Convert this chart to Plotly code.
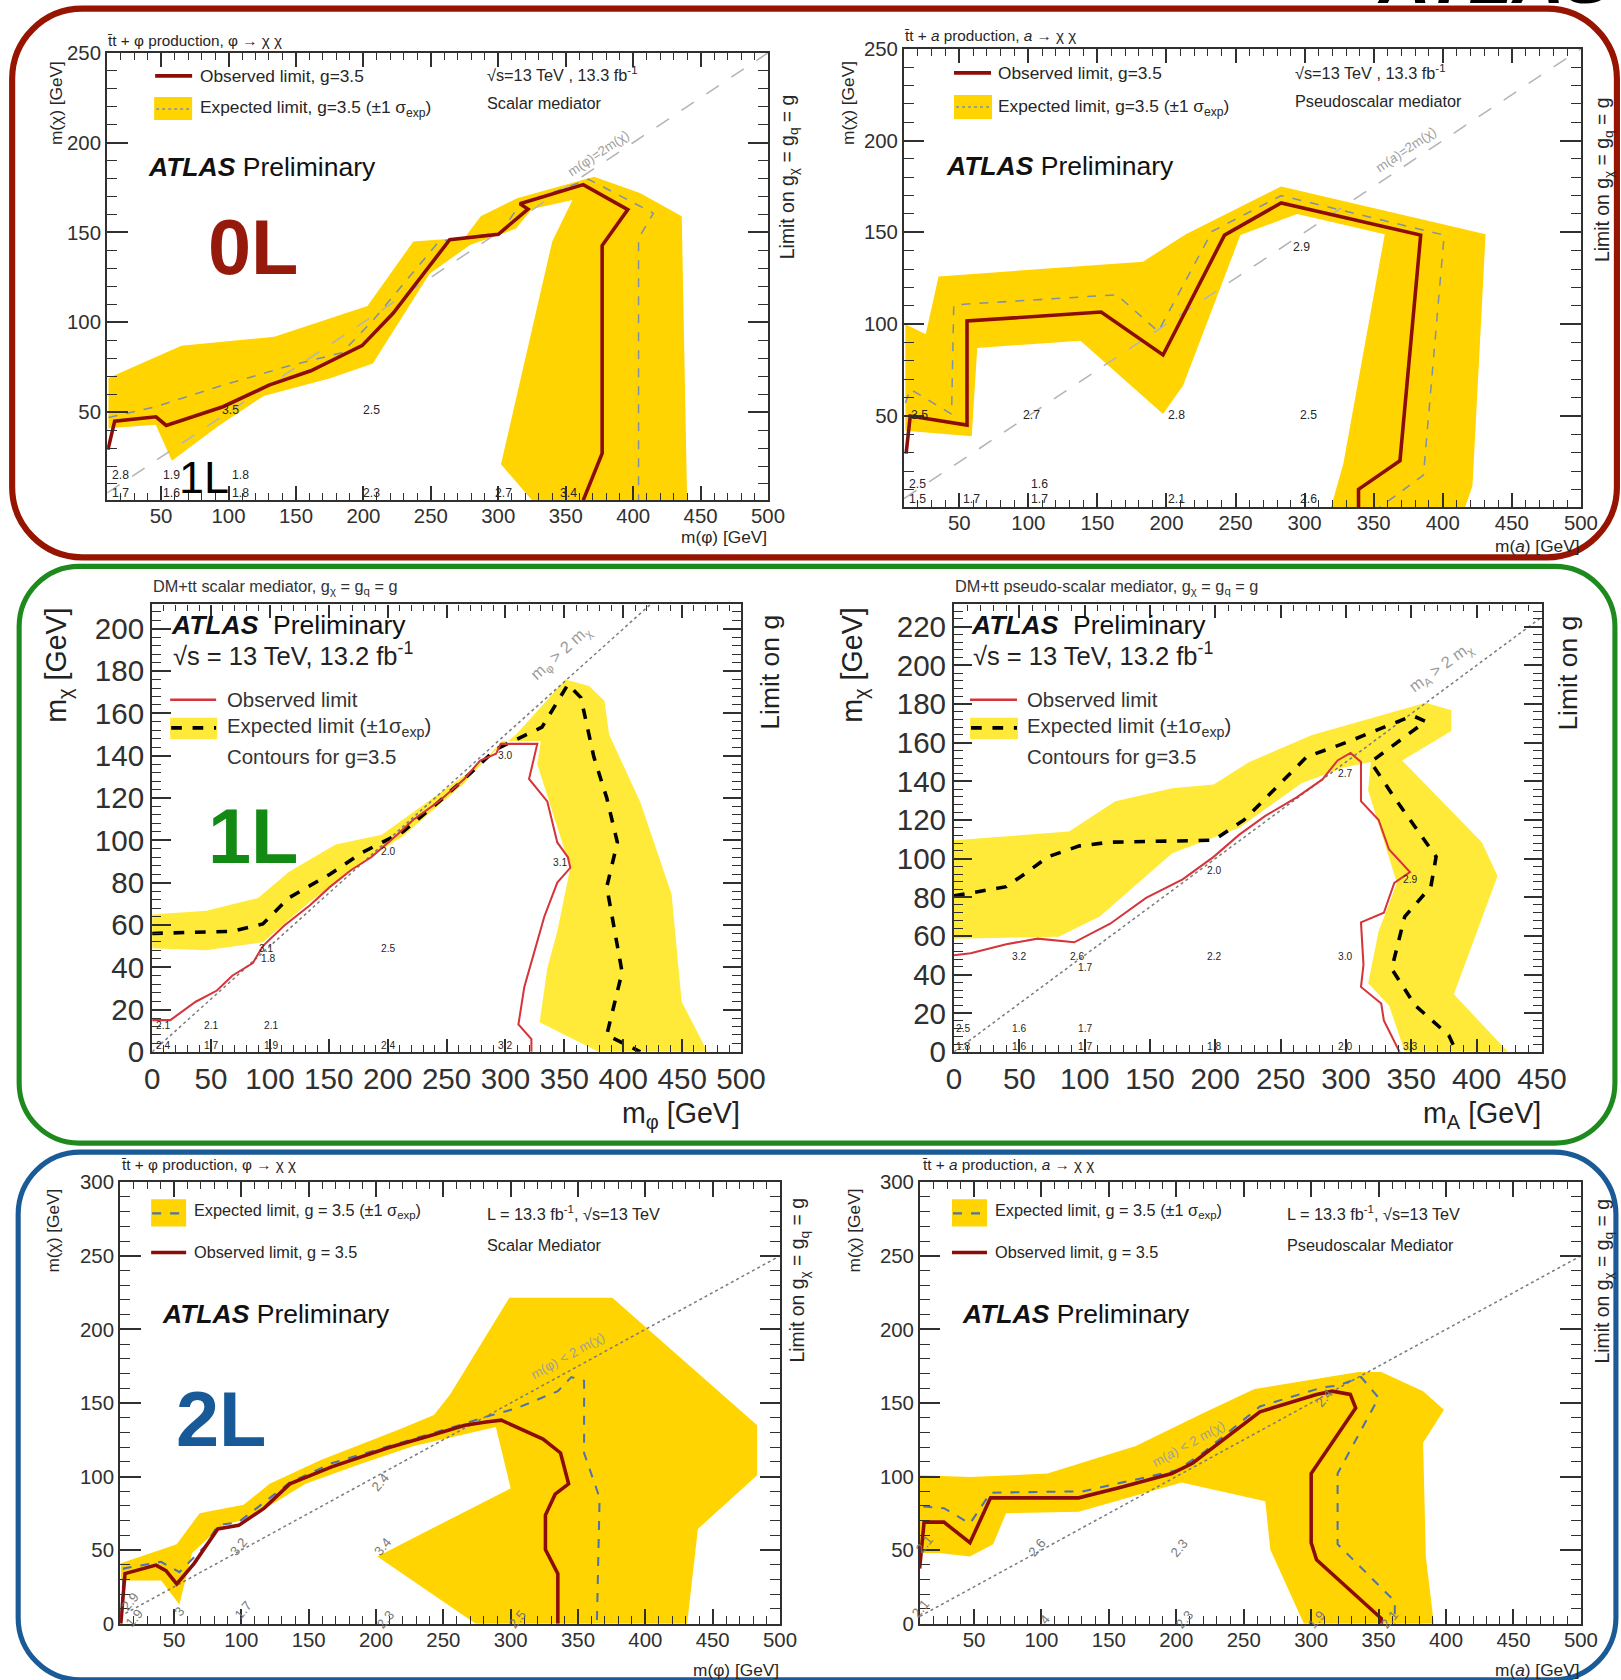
import plotly.graph_objects as go

# Layout positions below are written in window pixels of the final 1621x1680
# picture. The rendered page is photographed slightly reduced (and offset by the
# default 8px body margin), so window pixels are converted to page pixels first.
WIN_W, WIN_H = 1621, 1680
PAGE_MARGIN = 8
KX, KY, CY = 0.980, 0.981, 4.5
ZF = (1 / KX + 1 / KY) / 2
W = round(WIN_W / KX) - 2 * PAGE_MARGIN
H = round((WIN_H - CY) / KY) - 2 * PAGE_MARGIN
FONT = "Liberation Sans, Arial, Helvetica, sans-serif"

# ---------------------------------------------------------------------------
# 0 lepton, scalar mediator (tt + phi)
# ---------------------------------------------------------------------------
zl_s_obs_x = [10.6, 15.6, 46.2, 53.8, 95.9, 130, 161, 199, 222, 264, 300, 318, 322, 316, 363, 396, 377, 377, 363]
zl_s_obs_y = [29.1, 45, 47.4, 42.6, 53, 65, 73, 87, 105, 146, 149, 160, 163, 166, 176.6, 162.7, 142.7, 27, 1]
zl_s_exp_x = [11, 46, 96, 146, 184, 207, 256, 302, 316, 367, 415, 404, 404]
zl_s_exp_y = [47, 53, 65, 76, 83, 101, 145, 150, 165.6, 179.6, 160.7, 146.7, 1]
zl_s_band_outer_x = [11, 65, 134, 203, 237, 275, 287, 314, 371, 405, 436, 440, 325]
zl_s_band_outer_y = [69, 87, 92, 109, 145, 147, 159, 169, 181, 172, 159, 1, 1]
zl_s_band_inner_x = [302, 340, 355, 325, 313, 279, 249, 207, 176, 126, 92, 58, 46, 11]
zl_s_band_inner_y = [21, 145, 168, 163, 152, 143, 127, 77, 69, 59, 42, 23, 43, 41]
zl_s_limits = [(101.6, 51.4, "3.5"), (206, 51.4, "2.5"), (20, 15, "2.8"), (20, 5, "1.7"),
               (57.6, 15, "1.9"), (57.6, 5, "1.6"), (109, 15, "1.8"), (109, 5, "1.8"),
               (206, 5, "2.3"), (304, 5, "2.7"), (352, 5, "3.4")]

# ---------------------------------------------------------------------------
# 0 lepton, pseudoscalar mediator (tt + a)
# ---------------------------------------------------------------------------
zl_p_obs_x = [11.5, 14.5, 55.6, 55.6, 152.7, 197.5, 242, 283, 384, 369, 339, 339]
zl_p_obs_y = [29.5, 50, 45, 101.7, 106.6, 83.2, 148.5, 166, 148.5, 25.6, 10, 0]
zl_p_exp_x = [11, 14.5, 44.4, 46, 164, 194, 233, 283, 401, 386, 354]
zl_p_exp_y = [57, 64.6, 51, 110.5, 116, 96, 150.5, 170, 148.5, 17.8, 0]
zl_p_band_outer_x = [11, 25.7, 35, 183, 214, 283, 431, 421.5, 416, 319]
zl_p_band_outer_y = [100, 94.5, 126, 134, 149, 175, 149, 12, 0, 0]
zl_p_band_inner_x = [328, 358, 294.6, 253.5, 212, 197.5, 137.7, 63, 59, 11]
zl_p_band_inner_y = [24, 149, 160, 148.5, 66.6, 51, 91, 87, 39, 42]
zl_p_limits = [(21, 50.6, "3.5"), (102, 50.6, "2.7"), (207, 50.6, "2.8"), (303, 50.6, "2.5"),
               (298, 142, "2.9"), (20, 13, "2.5"), (20, 5, "1.5"), (59, 5, "1.7"),
               (108, 13, "1.6"), (108, 5, "1.7"), (207, 5, "2.1"), (303, 5, "2.6")]

# ---------------------------------------------------------------------------
# 1 lepton, scalar mediator
# ---------------------------------------------------------------------------
ol_s_obs_x = [0, 15.4, 37, 55, 68, 85.5, 94, 112, 134, 151, 169, 186, 208, 221.5, 243.4, 265, 278.5, 292,
              296, 327, 320, 335.5, 344, 353, 355, 344, 333, 322, 316, 311, 322, 322]
ol_s_obs_y = [15, 15, 23.7, 29, 36, 42, 50, 59.6, 69.3, 78, 86, 92, 102.6, 109.6, 118.4, 129, 137.7, 141,
              145.6, 145.6, 129, 118.4, 99, 92, 87, 80, 64, 43, 30.7, 13, 6, 0]
ol_s_exp_x = [0, 68, 94, 116, 151, 177.6, 212.7, 243, 265, 291.7, 331, 353, 364, 375, 386, 395, 386, 392.5,
              399, 386, 397, 414.5]
ol_s_exp_y = [56, 57, 60.5, 72.8, 84, 94, 104, 118, 129, 143, 153.5, 173.7, 167.5, 139.5, 120, 99, 78, 57,
              37.7, 8, 5, 0]
ol_s_band_outer_x = [0, 46, 90, 116, 155.7, 195, 265, 309, 351, 371, 384, 388, 414.5, 441, 449.6, 471.5, 379]
ol_s_band_outer_y = [65, 66.7, 72.8, 85, 98, 102.6, 130.7, 150, 176, 173, 166, 150, 118, 74.6, 23.7, 0, 0]
ol_s_band_inner_x = [329, 335.5, 344, 355, 344, 327, 330, 297, 265, 212.7, 177.6, 134, 94, 46, 0]
ol_s_band_inner_y = [14, 39.5, 57, 87, 106, 136, 147, 147, 127, 101.8, 89.5, 71, 51.8, 48, 49]
ol_s_limits = [(300, 140, "3.0"), (346.5, 89.5, "3.1"), (200.4, 94.7, "2.0"), (200, 49, "2.5"),
               (96.5, 49, "3.1"), (98, 44, "1.8"), (9, 12.3, "2.1"), (50, 12.3, "2.1"), (101, 12.3, "2.1"),
               (9, 3, "2.4"), (50, 3, "1.7"), (101, 3, "1.9"), (200, 3, "2.4"), (300, 3, "3.2")]

# ---------------------------------------------------------------------------
# 1 lepton, pseudoscalar mediator
# ---------------------------------------------------------------------------
ol_p_obs_x = [0, 12.7, 40, 64, 92, 119.5, 147, 175, 198.7, 218.4, 238, 262, 282, 293.6, 303.5, 311.5,
              311.5, 325, 333, 349, 337, 329, 311.5, 313.4, 311.5, 327, 329, 341]
ol_p_obs_y = [50, 51, 55.7, 58.6, 56.7, 66.3, 79.7, 89.3, 100.9, 112.4, 122, 131.6, 141, 150.8, 154.7, 150,
              129.7, 120, 104.7, 93, 87.4, 72, 67, 45, 33.6, 25, 16.3, 0]
ol_p_exp_x = [0, 40, 56, 72, 96, 119.5, 198.7, 222, 270, 301.5, 351, 361, 319, 337, 369, 365, 345, 335,
              353, 378.7, 384.6]
ol_p_exp_y = [80.7, 85.5, 93, 101, 106.6, 108.5, 109.5, 120, 152.7, 160.4, 174, 171, 150, 131.6, 101, 85.5,
              70, 43, 24, 8.6, 0]
ol_p_band_outer_x = [0, 88, 123.5, 167, 198.7, 226, 274, 361, 380.7, 380.7, 343, 404, 416, 382.6, 424, 345]
ol_p_band_outer_y = [109.5, 114, 129.7, 136.4, 138.3, 150, 164, 180.6, 176.8, 166, 150.8, 108.5, 91, 29.8, 0, 0]
ol_p_band_inner_x = [333, 317, 325, 339, 317, 319, 297.6, 266, 218.4, 167, 111.6, 80, 0]
ol_p_band_inner_y = [24, 35.5, 62.4, 87.4, 135.4, 150, 147, 139, 116, 102.8, 70, 59.6, 58.6]
ol_p_limits = [(299.6, 144, "2.7"), (349, 89, "2.9"), (198.7, 94, "2.0"), (198.7, 49.4, "2.2"),
               (299.6, 49.4, "3.0"), (50, 49.4, "3.2"), (94, 49.4, "2.6"), (100, 43.6, "1.7"),
               (6.7, 12, "2.5"), (50, 12, "1.6"), (100, 12, "1.7"), (6.7, 3, "1.8"), (50, 3, "1.6"),
               (100, 3, "1.7"), (198.7, 3, "1.8"), (299.6, 3, "2.0"), (349, 3, "3.3")]

# ---------------------------------------------------------------------------
# 2 lepton, scalar mediator (tt + phi)
# ---------------------------------------------------------------------------
tl_s_obs_x = [10.5, 13.6, 36.6, 44, 52, 65, 82.5, 98, 117, 136, 167, 209, 240, 266, 281.7, 293, 324, 337,
              343, 333, 325.8, 325.8, 335, 335]
tl_s_obs_y = [0, 34, 39.8, 36, 27, 41, 64.4, 66.8, 78.5, 95, 106.6, 119.5, 127.7, 134.8, 137, 138.3, 125.4,
              116, 95, 88, 73.8, 50.4, 34, 0]
tl_s_exp_x = [10.5, 12.8, 40.4, 54, 73, 82.5, 98, 136, 167, 209, 240, 266, 281.7, 304.7, 320, 335, 345,
              354.5, 354.5, 366, 364]
tl_s_exp_y = [0, 37.5, 42, 35, 52.7, 66.8, 69, 96, 109, 120.7, 128.9, 136, 140.6, 146.5, 152.3, 158, 167.6,
              165, 116, 85.5, 0]
tl_s_band_outer_x = [10.5, 52, 69, 101.7, 121, 159, 218.5, 243, 255, 299, 375.5, 483, 483, 439, 431, 274]
tl_s_band_outer_y = [41, 54, 75, 80.8, 95, 111.3, 132.4, 141.8, 155.8, 221.5, 221.5, 134.8, 100.8, 64.4, 0, 0]
tl_s_band_inner_x = [201, 300, 289, 228, 190, 147.7, 105.5, 86, 63.4, 54, 40.4, 10.5]
tl_s_band_inner_y = [45.7, 92, 133.6, 120.7, 109, 95, 71.5, 66.8, 48, 13, 29.3, 29.3]
tl_s_limits = [(203, 96, "2.4"), (98, 52.7, "3.2"), (205, 52.7, "3.4"), (101.7, 9.4, "1.7"),
               (54, 8, "3"), (207, 3, "2.3"), (304.7, 3, "2.5"), (17.4, 15, "2.9"), (21, 4, "1.9")]

# ---------------------------------------------------------------------------
# 2 lepton, pseudoscalar mediator (tt + a)
# ---------------------------------------------------------------------------
tl_p_obs_x = [9.7, 13, 27.7, 47, 62.3, 127.6, 158.3, 196.7, 212, 262, 304, 315.6, 329, 333, 300, 300, 304,
              352, 352]
tl_p_obs_y = [37.5, 69, 69, 55, 85.5, 85.5, 92.6, 102, 109, 144, 155.8, 158, 155.8, 146.5, 102, 55, 43.4,
              3.5, 0]
tl_p_exp_x = [12.4, 27.7, 47, 62.3, 131.4, 200.5, 219.7, 262, 308, 319.6, 337, 350, 319.6, 319.6, 362, 362]
tl_p_exp_y = [79.7, 78.5, 68, 89, 90, 104.3, 116, 147.6, 160.5, 161.7, 167.6, 153.5, 102, 54, 15.2, 0]
tl_p_band_outer_x = [9.7, 47, 104.5, 170, 219.7, 258, 335, 352, 383, 398.5, 383, 385, 391, 294.6]
tl_p_band_outer_y = [100.8, 99.6, 102, 120.7, 143, 159.4, 171, 171, 158, 145.3, 123, 45.7, 0, 0]
tl_p_band_inner_x = [269.7, 266, 204, 127.6, 73.8, 64.2, 47, 24, 9.7]
tl_p_band_inner_y = [50.4, 83.2, 96, 76, 75, 54, 45.7, 48, 48]
tl_p_limits = [(96.8, 51.6, "2.6"), (202.5, 51.6, "2.3"), (13, 54, "2.1"), (10.4, 10.5, "2.1"),
               (102.6, 3, "4"), (206, 3, "2.3"), (304, 3, "1.9"), (358, 3, "2.1"), (310, 153.5, "2.4")]

# ---------------------------------------------------------------------------
# colours
# ---------------------------------------------------------------------------
GOLD = "#FFD400"
LEMON = "#FFEA3A"
DARK_RED = "#8c0c08"
RED_1L = "#d6343b"
EXP_0L = "#8190aa"
EXP_2L = "#4f72ad"
TXT = "#262626"


def px(x):
    return (x / KX - PAGE_MARGIN) / W


def py(y):
    return 1 - ((y - CY) / KY - PAGE_MARGIN) / H


def fs(size):
    return round(size * ZF, 1)


def lw(width):
    return round(width * ZF, 2)


fig = go.Figure()
annotations = []
shapes = []


def ann(text, x, y, size, xanchor="left", yanchor="middle", color=TXT, angle=0, ref=None):
    d = dict(text=text, showarrow=False, font=dict(family=FONT, size=fs(size), color=color),
             xanchor=xanchor, yanchor=yanchor, textangle=angle, borderpad=0)
    if ref is None:
        d.update(xref="paper", yref="paper", x=px(x), y=py(y))
    else:
        d.update(xref=ref[0], yref=ref[1], x=x, y=y)
    annotations.append(d)


def axes_layout(n, box, xr, yr, xdt, ydt, xmdt, ymdt, tsize, xlen, ylen, xstand=0):
    left, right, top, bottom = box
    sfx = "" if n == 1 else str(n)
    common = dict(showline=True, linecolor="#303030", linewidth=lw(2), mirror="ticks", ticks="inside",
                  tickcolor="#303030", tickwidth=lw(1.5), showgrid=False, zeroline=False,
                  tickfont=dict(family=FONT, size=fs(tsize), color="#303030"), tick0=0, fixedrange=True)
    xa = dict(common, domain=[px(left), px(right)], range=xr, anchor="y" + sfx, dtick=xdt,
              ticklen=xlen / KY, ticklabelstandoff=xstand,
              minor=dict(ticks="inside", ticklen=xlen * 0.5 / KY, dtick=xmdt, tick0=0,
                         tickcolor="#303030", tickwidth=lw(1), showgrid=False))
    ya = dict(common, domain=[py(bottom), py(top)], range=yr, anchor="x" + sfx, dtick=ydt,
              ticklen=ylen / KX,
              minor=dict(ticks="inside", ticklen=ylen * 0.5 / KX, dtick=ymdt, tick0=0,
                         tickcolor="#303030", tickwidth=lw(1), showgrid=False))
    fig.update_layout(**{"xaxis" + sfx: xa, "yaxis" + sfx: ya})
    return ("x" + sfx, "y" + sfx)


def styled(line):
    out = dict(line)
    out["width"] = lw(line["width"])
    return out


def add_contours(ref, band_ox, band_oy, band_ix, band_iy, band_col, exp_x, exp_y, exp_style,
                 obs_x, obs_y, obs_style, diag, diag_style):
    xr, yr = ref
    fig.add_trace(go.Scatter(x=band_ox + band_ix + [band_ox[0]], y=band_oy + band_iy + [band_oy[0]],
                             xaxis=xr, yaxis=yr, mode="lines", fill="toself", fillcolor=band_col,
                             line=dict(width=0, color=band_col), hoverinfo="skip"))
    fig.add_trace(go.Scatter(x=diag[0], y=diag[1], xaxis=xr, yaxis=yr, mode="lines",
                             line=styled(diag_style), hoverinfo="skip"))
    fig.add_trace(go.Scatter(x=exp_x, y=exp_y, xaxis=xr, yaxis=yr, mode="lines",
                             line=styled(exp_style), hoverinfo="skip"))
    fig.add_trace(go.Scatter(x=obs_x, y=obs_y, xaxis=xr, yaxis=yr, mode="lines",
                             line=styled(obs_style), hoverinfo="skip"))


def limit_labels(ref, labels, size, color=TXT, angle=0):
    for (x, y, t) in labels:
        ann(t, x, y, size, xanchor="center", color=color, angle=angle, ref=ref)


def legend_line(x0, x1, y, color, width, dash="solid"):
    shapes.append(dict(type="line", xref="paper", yref="paper", x0=px(x0), x1=px(x1), y0=py(y), y1=py(y),
                       line=dict(color=color, width=lw(width), dash=dash)))


def legend_box(x0, x1, y0, y1, color):
    shapes.append(dict(type="rect", xref="paper", yref="paper", x0=px(x0), x1=px(x1), y0=py(y1), y1=py(y0),
                       fillcolor=color, line=dict(width=0)))


def rounded_frame(x0, y0, x1, y1, r, color, width):
    k = 0.5523 * r
    p = lambda x, y: f"{px(x):.5f},{py(y):.5f}"
    path = (f"M {p(x0 + r, y0)} L {p(x1 - r, y0)} C {p(x1 - r + k, y0)} {p(x1, y0 + r - k)} {p(x1, y0 + r)} "
            f"L {p(x1, y1 - r)} C {p(x1, y1 - r + k)} {p(x1 - r + k, y1)} {p(x1 - r, y1)} "
            f"L {p(x0 + r, y1)} C {p(x0 + r - k, y1)} {p(x0, y1 - r + k)} {p(x0, y1 - r)} "
            f"L {p(x0, y0 + r)} C {p(x0, y0 + r - k)} {p(x0 + r - k, y0)} {p(x0 + r, y0)} Z")
    shapes.append(dict(type="path", xref="paper", yref="paper", path=path,
                       line=dict(color=color, width=lw(width)), fillcolor="rgba(0,0,0,0)"))


TT = "t\u0304t"
ATLAS_PRE = "<b><i>ATLAS</i></b> Preliminary"
ATLAS_PRE_1L = "<b><i>ATLAS</i></b>  Preliminary"
LIMIT_G = "Limit on g<sub>χ</sub> = g<sub>q</sub> = g"

obs_thick = dict(color=DARK_RED, width=3.5)
exp0 = dict(color=EXP_0L, width=1.5, dash="dash")
diag0 = dict(color="#b4b4b4", width=1.5, dash="longdash")
obs1 = dict(color=RED_1L, width=2)
exp1 = dict(color="black", width=3.5, dash="dash")
diag1 = dict(color="#7c7c7c", width=1.5, dash="dot")
exp2 = dict(color=EXP_2L, width=2, dash="dash")
diag2 = dict(color="#7c7c7c", width=1.5, dash="dot")

# ============================ 0L scalar ============================
r1 = axes_layout(1, (107, 768, 54, 500), [10, 500], [1, 250], 50, 50, 10, 10, 20, 14, 20, xstand=-4)
add_contours(r1, zl_s_band_outer_x, zl_s_band_outer_y, zl_s_band_inner_x, zl_s_band_inner_y, GOLD,
             zl_s_exp_x, zl_s_exp_y, exp0, zl_s_obs_x, zl_s_obs_y, obs_thick, ([10, 500], [5, 250]), diag0)
limit_labels(r1, zl_s_limits, 12)
ann(f"{TT} + φ production, φ → χ χ", 106, 42, 15)
legend_line(155, 192, 77, DARK_RED, 3.5)
ann("Observed limit, g=3.5", 199, 77, 17)
legend_box(154, 192, 98, 121, GOLD)
legend_line(156, 190, 110, EXP_0L, 1.5, "dot")
ann("Expected limit, g=3.5 (±1 σ<sub>exp</sub>)", 199, 110, 17)
ann("√s=13 TeV , 13.3 fb<sup>-1</sup>", 486, 75, 16)
ann("Scalar mediator", 486, 104, 16)
ann(ATLAS_PRE, 147, 168, 26, color="#111")
ann("m(χ) [GeV]", 56, 104, 17, xanchor="center", angle=-90)
ann("m(φ) [GeV]", 768, 537, 17, xanchor="right")
ann(LIMIT_G, 788, 178, 19, xanchor="center", angle=-90)
ann("m(φ)=2m(χ)", 598, 154, 13, xanchor="center", color="#a0a0a0", angle=-34)
ann("<b>0L</b>", 253, 248, 76, xanchor="center", color="#961a0c")
ann("1L", 204, 477, 44, xanchor="center", color="black")

# ============================ 0L pseudoscalar ============================
r2 = axes_layout(2, (904, 1581, 50, 507), [10, 500], [0.3, 250], 50, 50, 10, 10, 20, 14, 20, xstand=-4)
add_contours(r2, zl_p_band_outer_x, zl_p_band_outer_y, zl_p_band_inner_x, zl_p_band_inner_y, GOLD,
             zl_p_exp_x, zl_p_exp_y, exp0, zl_p_obs_x, zl_p_obs_y, obs_thick, ([10, 500], [5, 250]), diag0)
limit_labels(r2, zl_p_limits, 12)
ann(f"{TT} + <i>a</i> production, <i>a</i> → χ χ", 903, 37, 15)
legend_line(954, 991, 74, DARK_RED, 3.5)
ann("Observed limit, g=3.5", 997, 74, 17)
legend_box(954, 992, 96, 120, GOLD)
legend_line(956, 990, 108, EXP_0L, 1.5, "dot")
ann("Expected limit, g=3.5 (±1 σ<sub>exp</sub>)", 997, 109, 17)
ann("√s=13 TeV , 13.3 fb<sup>-1</sup>", 1294, 73, 16)
ann("Pseudoscalar mediator", 1294, 102, 16)
ann(ATLAS_PRE, 945, 167, 26, color="#111")
ann("m(χ) [GeV]", 848, 104, 17, xanchor="center", angle=-90)
ann("m(<i>a</i>) [GeV]", 1581, 546, 17, xanchor="right")
ann(LIMIT_G, 1603, 180, 19, xanchor="center", angle=-90)
ann("m(<i>a</i>)=2m(χ)", 1406, 150, 13, xanchor="center", color="#a0a0a0", angle=-34)

# ============================ 1L scalar ============================
r3 = axes_layout(3, (152, 741, 604, 1050), [0, 500], [0, 211.5], 50, 20, 10, 4, 29, 13, 18)
add_contours(r3, ol_s_band_outer_x, ol_s_band_outer_y, ol_s_band_inner_x, ol_s_band_inner_y, LEMON,
             ol_s_exp_x, ol_s_exp_y, exp1, ol_s_obs_x, ol_s_obs_y, obs1, ([0, 423], [0, 211.5]), diag1)
limit_labels(r3, ol_s_limits, 10)
ann("DM+tt scalar mediator, g<sub>χ</sub> = g<sub>q</sub> = g", 152, 587, 16, color="#333")
ann(ATLAS_PRE_1L, 170, 624, 26, color="#111")
ann("√s = 13 TeV, 13.2 fb<sup>-1</sup>", 172, 653, 25, color="#222")
legend_line(170, 216, 699, RED_1L, 2.5)
ann("Observed limit", 226, 699, 20, color="#333")
legend_box(170, 217, 717, 738, LEMON)
legend_line(171, 216, 727, "black", 3.5, "dash")
ann("Expected limit (±1σ<sub>exp</sub>)", 226, 727, 20, color="#333")
ann("Contours for g=3.5", 226, 756, 20, color="#333")
ann("m<sub>χ</sub> [GeV]", 58, 665, 28, xanchor="center", angle=-90, color="#222")
ann("m<sub>φ</sub> [GeV]", 741, 1113, 28, xanchor="right", color="#222")
ann("Limit on g", 770, 672, 26, xanchor="center", angle=-90, color="#222")
ann("m<sub>φ</sub> > 2 m<sub>χ</sub>", 560, 652, 16, xanchor="center", color="#9a9a9a", angle=-42)
ann("<b>1L</b>", 253, 835, 76, xanchor="center", color="#138a13")

# ============================ 1L pseudoscalar ============================
r4 = axes_layout(4, (954, 1542, 604, 1050), [0, 450], [0, 231.5], 50, 20, 10, 4, 29, 13, 18)
add_contours(r4, ol_p_band_outer_x, ol_p_band_outer_y, ol_p_band_inner_x, ol_p_band_inner_y, LEMON,
             ol_p_exp_x, ol_p_exp_y, exp1, ol_p_obs_x, ol_p_obs_y, obs1, ([0, 450], [0, 225]), diag1)
limit_labels(r4, ol_p_limits, 10)
ann("DM+tt pseudo-scalar mediator, g<sub>χ</sub> = g<sub>q</sub> = g", 954, 587, 16, color="#333")
ann(ATLAS_PRE_1L, 970, 624, 26, color="#111")
ann("√s = 13 TeV, 13.2 fb<sup>-1</sup>", 972, 653, 25, color="#222")
legend_line(970, 1017, 699, RED_1L, 2.5)
ann("Observed limit", 1026, 699, 20, color="#333")
legend_box(970, 1018, 717, 738, LEMON)
legend_line(971, 1017, 727, "black", 3.5, "dash")
ann("Expected limit (±1σ<sub>exp</sub>)", 1026, 727, 20, color="#333")
ann("Contours for g=3.5", 1026, 756, 20, color="#333")
ann("m<sub>χ</sub> [GeV]", 854, 665, 28, xanchor="center", angle=-90, color="#222")
ann("m<sub>A</sub> [GeV]", 1542, 1113, 28, xanchor="right", color="#222")
ann("Limit on g", 1568, 672, 26, xanchor="center", angle=-90, color="#222")
ann("m<sub>A</sub> > 2 m<sub>χ</sub>", 1441, 666, 16, xanchor="center", color="#9a9a9a", angle=-36)

# ============================ 2L scalar ============================
r5 = axes_layout(5, (120, 780, 1180, 1620), [10, 500], [0, 300], 50, 50, 10, 10, 20, 14, 20, xstand=-3)
add_contours(r5, tl_s_band_outer_x, tl_s_band_outer_y, tl_s_band_inner_x, tl_s_band_inner_y, GOLD,
             tl_s_exp_x, tl_s_exp_y, exp2, tl_s_obs_x, tl_s_obs_y, obs_thick, ([10, 500], [5, 250]), diag2)
limit_labels(r5, tl_s_limits, 13, color="#7a7a7a", angle=-50)
ann(f"{TT} + φ production, φ → χ χ", 120, 1162, 15)
legend_box(151, 186, 1197, 1224, GOLD)
legend_line(152, 185, 1211, EXP_2L, 2, "dash")
ann("Expected limit, g = 3.5 (±1 σ<sub>exp</sub>)", 193, 1209, 16)
legend_line(151, 186, 1250, DARK_RED, 3.5)
ann("Observed limit, g = 3.5", 193, 1250, 16)
ann("L = 13.3 fb<sup>-1</sup>, √s=13 TeV", 486, 1211, 16)
ann("Scalar Mediator", 486, 1243, 16)
ann(ATLAS_PRE, 161, 1311, 26, color="#111")
ann("m(χ) [GeV]", 53, 1228, 17, xanchor="center", angle=-90)
ann("m(φ) [GeV]", 780, 1666, 17, xanchor="right")
ann(LIMIT_G, 799, 1278, 19, xanchor="center", angle=-90)
ann("m(φ) < 2 m(χ)", 568, 1353, 13, xanchor="center", color="#a0a0a0", angle=-29)
ann("<b>2L</b>", 221, 1416, 76, xanchor="center", color="#175a97")

# ============================ 2L pseudoscalar ============================
r6 = axes_layout(6, (920, 1581, 1180, 1620), [10, 500], [0, 300], 50, 50, 10, 10, 20, 14, 20, xstand=-3)
add_contours(r6, tl_p_band_outer_x, tl_p_band_outer_y, tl_p_band_inner_x, tl_p_band_inner_y, GOLD,
             tl_p_exp_x, tl_p_exp_y, exp2, tl_p_obs_x, tl_p_obs_y, obs_thick, ([10, 500], [5, 250]), diag2)
limit_labels(r6, tl_p_limits, 13, color="#7a7a7a", angle=-50)
ann(f"{TT} + <i>a</i> production, <i>a</i> → χ χ", 921, 1162, 15)
legend_box(952, 987, 1197, 1224, GOLD)
legend_line(953, 986, 1211, EXP_2L, 2, "dash")
ann("Expected limit, g = 3.5 (±1 σ<sub>exp</sub>)", 994, 1209, 16)
legend_line(952, 987, 1250, DARK_RED, 3.5)
ann("Observed limit, g = 3.5", 994, 1250, 16)
ann("L = 13.3 fb<sup>-1</sup>, √s=13 TeV", 1286, 1211, 16)
ann("Pseudoscalar Mediator", 1286, 1243, 16)
ann(ATLAS_PRE, 961, 1311, 26, color="#111")
ann("m(χ) [GeV]", 854, 1228, 17, xanchor="center", angle=-90)
ann("m(<i>a</i>) [GeV]", 1581, 1666, 17, xanchor="right")
ann(LIMIT_G, 1604, 1278, 19, xanchor="center", angle=-90)
ann("m(<i>a</i>) < 2 m(χ)", 1189, 1440, 13, xanchor="center", color="#a0a0a0", angle=-29)

# ---------------------------------------------------------------------------
# channel frames and the page logo (logo kept inside the window's right edge)
# ---------------------------------------------------------------------------
rounded_frame(12, 10, 1617, 557, 70, "#961400", 6)
rounded_frame(19, 566, 1615, 1141, 60, "#1e8a1e", 5)
rounded_frame(18, 1150, 1616, 1676, 62, "#1a5a96", 5)
annotations.append(dict(text="<b><i>ATLAS</i></b>", showarrow=False, xref="paper", yref="paper",
                        x=px(1614), y=py(21), xanchor="right", yanchor="bottom",
                        font=dict(family=FONT, size=fs(70), color="black")))

fig.update_layout(width=W, height=H, margin=dict(l=0, r=0, t=0, b=0), showlegend=False,
                  paper_bgcolor="white", plot_bgcolor="white",
                  annotations=annotations, shapes=shapes)

fig.write_html("out.html")
